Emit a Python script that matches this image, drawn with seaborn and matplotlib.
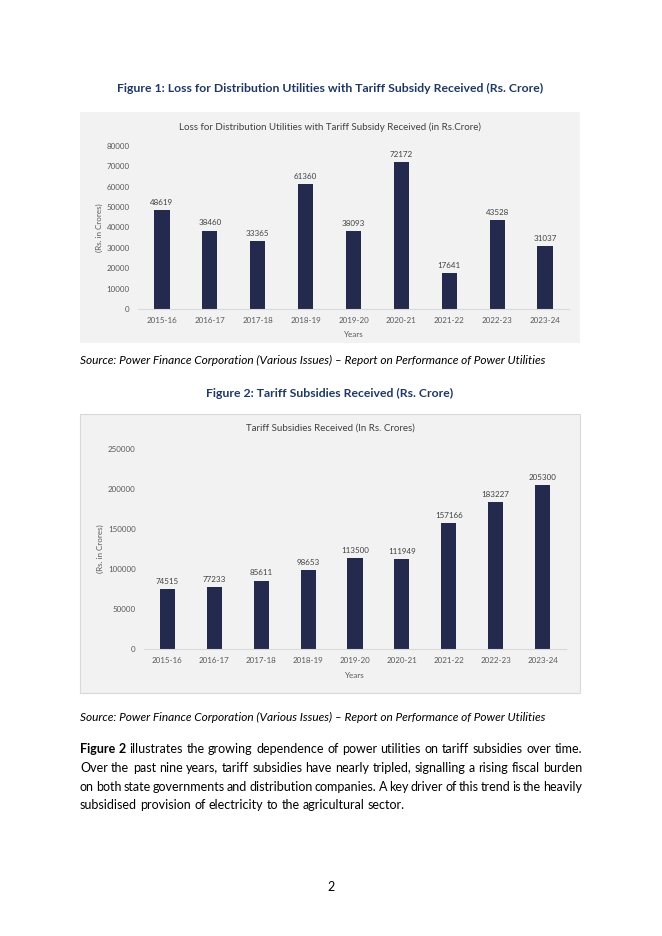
import numpy as np
import pandas as pd
import matplotlib
matplotlib.use("Agg")
import matplotlib.pyplot as plt
from matplotlib.patches import Rectangle
import seaborn as sns

# data
years = ["2015-16", "2016-17", "2017-18", "2018-19", "2019-20",
         "2020-21", "2021-22", "2022-23", "2023-24"]
loss_values = [48619, 38460, 33365, 61360, 38093, 72172, 17641, 43528, 31037]
subsidy_values = [74515, 77233, 85611, 98653, 113500, 111949, 157166, 183227, 205300]
loss_ticks = list(range(0, 80001, 10000))
subsidy_ticks = list(range(0, 250001, 50000))

plt.rcParams['font.family'] = ['Lato', 'DejaVu Sans']

W, H = 662, 936
BAR = "#232a4e"
HEAD = "#1f3864"
GREY = "#595959"
PANEL = "#f2f2f2"
BODY = 9.0

fig = plt.figure(figsize=(W / 100, H / 100), dpi=100)
fig.patch.set_facecolor("white")


def fx(x):
    return x / W


def fy(y):
    return 1 - y / H


def panel(x0, y0, x1, y1, edge):
    fig.patches.append(Rectangle((fx(x0), fy(y1)), fx(x1) - fx(x0), fy(y0) - fy(y1),
                                 transform=fig.transFigure, facecolor=PANEL,
                                 edgecolor=edge, linewidth=0.8, zorder=-5))


def chart(vals, ticks, box, title, title_y, years_y, ylab_x):
    x0, y0, x1, y1 = box
    ax = fig.add_axes([fx(x0), fy(y1), fx(x1) - fx(x0), fy(y0) - fy(y1)])
    ax.set_zorder(2)
    df = pd.DataFrame({"Year": years, "Value": vals})
    sns.barplot(data=df, x="Year", y="Value", color=BAR, width=0.32,
                saturation=1, ax=ax)
    ax.set_facecolor("none")
    ax.set_xlim(-0.5, len(years) - 0.5)
    ax.set_ylim(0, ticks[-1])
    ax.set_yticks(ticks)
    ax.set_yticklabels([str(t) for t in ticks])
    for s in ["top", "right", "left"]:
        ax.spines[s].set_visible(False)
    ax.spines["bottom"].set_color("#d9d9d9")
    ax.spines["bottom"].set_linewidth(0.8)
    ax.tick_params(length=0, labelsize=5.8, colors=GREY, pad=6)
    ax.set_xlabel("")
    ax.set_ylabel("")
    ax.bar_label(ax.containers[0], fmt="%d", padding=3, fontsize=5.8, color="#404040")
    fig.text(fx(330), fy(title_y), title, ha="center", va="center",
             fontsize=7.0, color="#404040")
    fig.text(fx((x0 + x1) / 2), fy(years_y), "Years", ha="center", va="center",
             fontsize=5.8, color=GREY)
    fig.text(fx(ylab_x), fy((y0 + y1) / 2), "(Rs. in Crores)", ha="center", va="center",
             rotation=90, fontsize=5.8, color=GREY)
    return ax


source = "Source: Power Finance Corporation (Various Issues) \u2013 Report on Performance of Power Utilities"

# Figure 1
fig.text(fx(330), fy(88), "Figure 1: Loss for Distribution Utilities with Tariff Subsidy Received (Rs. Crore)",
         ha="center", va="center", fontsize=8.85, fontweight="bold", color=HEAD)
panel(80, 112, 580, 343, "none")
chart(loss_values, loss_ticks, (138, 146, 569, 309),
      "Loss for Distribution Utilities with Tariff Subsidy Received (in Rs.Crore)",
      127, 334, 99)
fig.text(fx(80), fy(360), source, ha="left", va="center", fontsize=8.6,
         style="italic", color="black")

# Figure 2
fig.text(fx(330), fy(393), "Figure 2: Tariff Subsidies Received (Rs. Crore)",
         ha="center", va="center", fontsize=8.85, fontweight="bold", color=HEAD)
panel(80, 414, 580, 693, "#d9d9d9")
chart(subsidy_values, subsidy_ticks, (144, 449, 566, 649),
      "Tariff Subsidies Received (In Rs. Crores)", 428, 675, 100)
fig.text(fx(80), fy(717), source, ha="left", va="center", fontsize=8.6,
         style="italic", color="black")

# justified paragraph
lines = [
    [("Figure", "bold"), ("2", "bold"), ("illustrates", "normal"), ("the", "normal"),
     ("growing", "normal"), ("dependence", "normal"), ("of", "normal"), ("power", "normal"),
     ("utilities", "normal"), ("on", "normal"), ("tariff", "normal"), ("subsidies", "normal"),
     ("over", "normal"), ("time.", "normal")],
    "Over the past nine years, tariff subsidies have nearly tripled, signalling a rising fiscal burden",
    "on both state governments and distribution companies. A key driver of this trend is the heavily",
    "subsidised provision of electricity to the agricultural sector.",
]
line_y = [749, 768, 787, 805]
left, right = 80, 582
renderer = fig.canvas.get_renderer()
space = fig.text(0, 0, "a a", fontsize=BODY)
one = fig.text(0, 0, "a", fontsize=BODY)
gap_normal = space.get_window_extent(renderer).width - 2 * one.get_window_extent(renderer).width
space.remove()
one.remove()
for i, line in enumerate(lines):
    words = line if isinstance(line, list) else [(w, "normal") for w in line.split()]
    texts = [fig.text(0, fy(line_y[i]), w, fontsize=BODY, fontweight=wt, va="center", ha="left")
             for w, wt in words]
    widths = [t.get_window_extent(renderer).width for t in texts]
    if i == len(lines) - 1:
        gap = gap_normal
    else:
        gap = (right - left - sum(widths)) / (len(words) - 1)
    x = left
    for t, w in zip(texts, widths):
        t.set_x(fx(x))
        x += w + gap

fig.text(fx(331), fy(887), "2", ha="center", va="center", fontsize=BODY)

fig.savefig("out.png", dpi=100)
